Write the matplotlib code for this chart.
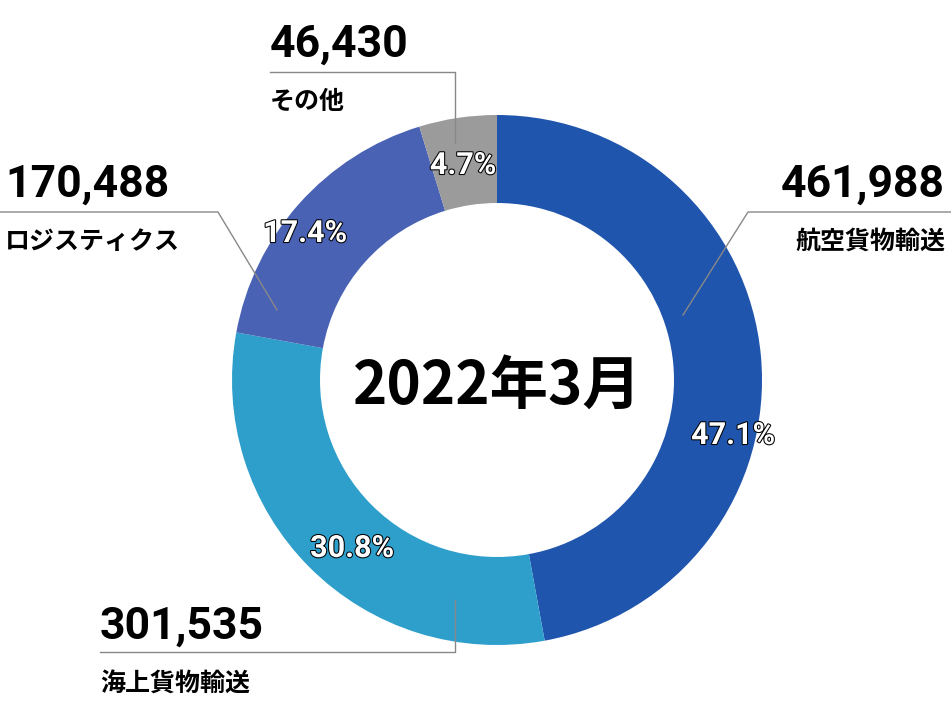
import matplotlib
matplotlib.use("Agg")
import matplotlib.pyplot as plt
import matplotlib.patheffects as pe

categories = ["航空貨物輸送", "海上貨物輸送", "ロジスティクス", "その他"]
values = [461988, 301535, 170488, 46430]
value_labels = ["461,988", "301,535", "170,488", "46,430"]
pct_labels = ["47.1%", "30.8%", "17.4%", "4.7%"]
colors = ["#1f55ad", "#2e9fcb", "#4a62b4", "#9b9b9b"]
title = "2022年3月"

plt.rcParams["font.family"] = ["Noto Sans CJK JP", "DejaVu Sans"]
fig = plt.figure(figsize=(9.51, 7.12), dpi=100)
ax = fig.add_axes([0, 0, 1, 1])

cx, cy, R, w = 497, 380, 265, 88
ax.pie(values, colors=colors, startangle=-90, counterclock=True,
       center=(cx, cy), radius=R, wedgeprops=dict(width=w, linewidth=0),
       frame=True)
ax.set_xlim(0, 951); ax.set_ylim(712, 0); ax.set_aspect("equal"); ax.axis("off")

stroke = [pe.withStroke(linewidth=1.5, foreground="black")]
pct_pos = [(733, 435), (352, 548), (305, 233), (463, 165)]
for (x, y), t in zip(pct_pos, pct_labels):
    ax.text(x, y, t, color="white", fontsize=22, fontweight="bold", ha="center", va="center",
            family="Roboto", path_effects=stroke)

lc = "#888888"
ax.plot([683, 748, 951], [315, 212, 212], color=lc, lw=1)
ax.plot([277, 218, 0], [310, 212, 212], color=lc, lw=1)
ax.plot([455, 455, 270], [143, 72, 72], color=lc, lw=1)
ax.plot([455, 455, 100], [600, 652, 652], color=lc, lw=1)

vf = dict(fontsize=32, fontweight="bold", family="Roboto", va="center")
cf = dict(fontsize=18, fontweight="bold", va="center")
ax.text(945, 185, value_labels[0], ha="right", **vf)
ax.text(945, 242, categories[0], ha="right", **cf)
ax.text(100, 627, value_labels[1], ha="left", **vf)
ax.text(100, 685, categories[1], ha="left", **cf)
ax.text(5, 185, value_labels[2], ha="left", **vf)
ax.text(5, 242, categories[2], ha="left", **cf)
ax.text(270, 45, value_labels[3], ha="left", **vf)
ax.text(270, 102, categories[3], ha="left", **cf)

ax.text(cx, 387, title, ha="center", va="center", fontsize=42, fontweight="bold")
fig.savefig("out.png", dpi=100)
